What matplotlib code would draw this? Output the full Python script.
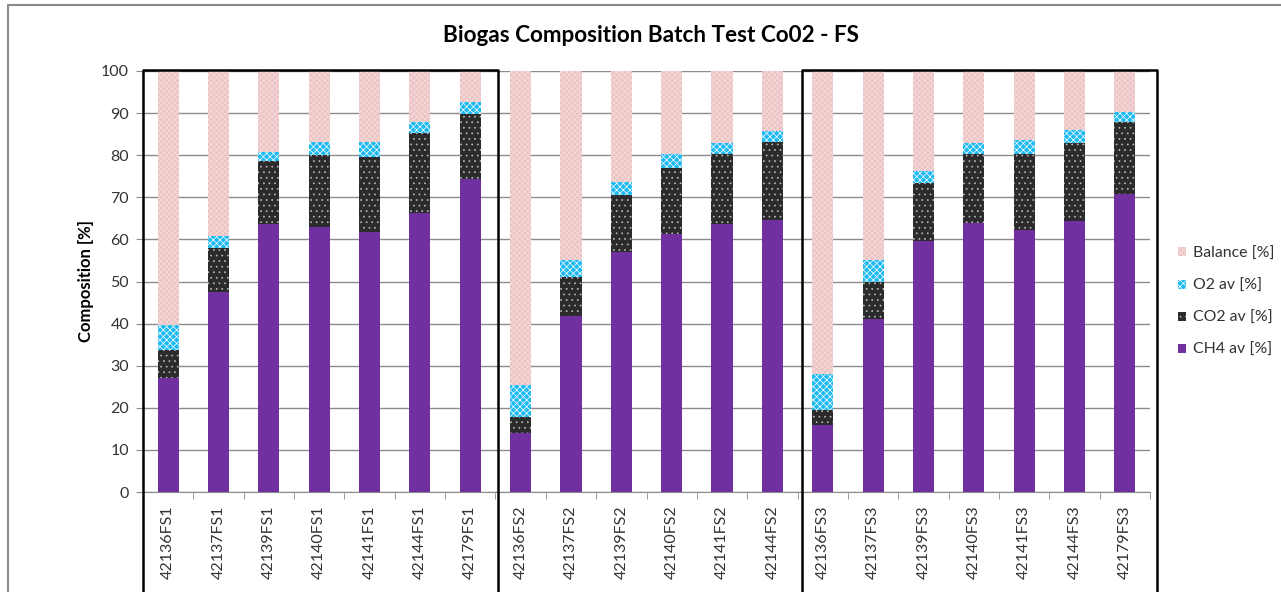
import matplotlib.pyplot as plt
from matplotlib.patches import Patch
from matplotlib.lines import Line2D
import numpy as np

plt.rcParams['font.family'] = ['Lato', 'DejaVu Sans']
plt.rcParams['hatch.linewidth'] = 0.5

samples = ['42136FS1', '42137FS1', '42139FS1', '42140FS1', '42141FS1', '42144FS1', '42179FS1',
           '42136FS2', '42137FS2', '42139FS2', '42140FS2', '42141FS2', '42144FS2',
           '42136FS3', '42137FS3', '42139FS3', '42140FS3', '42141FS3', '42144FS3', '42179FS3']
ch4 = np.array([27.1, 47.4, 63.7, 63.0, 61.8, 66.3, 74.3,
                14.1, 41.8, 56.9, 61.3, 63.6, 64.6,
                15.8, 41.0, 59.7, 64.0, 62.2, 64.3, 70.9])
co2 = np.array([6.6, 10.5, 15.0, 17.0, 17.7, 19.0, 15.6,
                3.6, 9.2, 13.6, 15.6, 16.6, 18.5,
                3.7, 9.0, 13.6, 16.2, 18.1, 18.5, 17.1])
o2 = np.array([6.0, 3.0, 2.0, 3.2, 3.7, 2.7, 2.8,
               7.6, 4.1, 3.1, 3.4, 2.8, 2.6,
               8.5, 5.1, 3.0, 2.6, 3.3, 3.2, 2.3])
balance = 100 - ch4 - co2 - o2

c_ch4 = '#7030A0'
c_co2 = '#2B2B2B'
c_o2 = '#1DB9F2'
c_bal = '#EDC4C4'
txt = '#333333'
grid = '#8C8C8C'

fig = plt.figure(figsize=(12.81, 5.92), dpi=100)
ax = fig.add_axes([143 / 1281, 1 - 492 / 592, (1150 - 143) / 1281, (492 - 71) / 592])

x = np.arange(len(samples))
w = 0.42
ax.bar(x, ch4, w, color=c_ch4, linewidth=0, zorder=3)
ax.bar(x, co2, w, bottom=ch4, color=c_co2, edgecolor='#BBBBBB', hatch='...', linewidth=0, zorder=3)
ax.bar(x, o2, w, bottom=ch4 + co2, color=c_o2, edgecolor='white', hatch='xxxxx', linewidth=0, zorder=3)
ax.bar(x, balance, w, bottom=ch4 + co2 + o2, color=c_bal, edgecolor='#F6DEDE', hatch='xxxxxx',
       linewidth=0, zorder=3)

ax.set_xlim(-0.5, len(samples) - 0.5)
ax.set_ylim(0, 100)
ax.set_yticks(np.arange(0, 101, 10))
ax.yaxis.grid(True, color=grid, linewidth=1)
ax.set_axisbelow(True)

ax.set_xticks(x)
ax.set_xticklabels(samples, rotation=90, va='top', ha='center')
ax.set_xticks(np.arange(-0.5, len(samples), 1), minor=True)
ax.tick_params(axis='x', which='major', length=0, pad=9.5, labelsize=11.5, labelcolor=txt)
ax.tick_params(axis='x', which='minor', length=5, color=grid, direction='out')
ax.tick_params(axis='y', length=5, color=grid, labelsize=11.5, labelcolor=txt, pad=5)

for s in ['top', 'right']:
    ax.spines[s].set_visible(False)
ax.spines['bottom'].set_color(grid)
ax.spines['left'].set_color(grid)

ax.set_ylabel('Composition [%]', fontsize=12, fontweight='bold', color='black', labelpad=5)

# group boxes
for x0, x1 in [(-0.5, 6.55), (12.59, 19.64)]:
    ax.add_line(Line2D([x0, x0, x1, x1], [-40, 100.2, 100.2, -40], color='black',
                       linewidth=1.8, clip_on=False, zorder=5))

fig.text(651 / 1281, 1 - 35 / 592, 'Biogas Composition Batch Test Co02 - FS',
         ha='center', va='center', fontsize=16.2, fontweight='bold', color='black')

handles = [Patch(facecolor=c_bal, edgecolor='#F6DEDE', hatch='xxxxxx', linewidth=0),
           Patch(facecolor=c_o2, edgecolor='white', hatch='xxxxx', linewidth=0),
           Patch(facecolor=c_co2, edgecolor='#BBBBBB', hatch='...', linewidth=0),
           Patch(facecolor=c_ch4, linewidth=0)]
labels = ['Balance [%]', 'O2 av [%]', 'CO2 av [%]', 'CH4 av [%]']
leg = fig.legend(handles, labels, loc='upper left', bbox_to_anchor=(1172 / 1281, 1 - 240 / 592),
                 frameon=False, fontsize=11.4, handlelength=0.5, handleheight=0.5,
                 handletextpad=0.45, labelspacing=1.15, borderaxespad=0)
for t in leg.get_texts():
    t.set_color(txt)

# chart area border
fig.add_artist(Line2D([8 / 1281, 8 / 1281, 1.01], [-0.01, 1 - 5 / 592, 1 - 5 / 592],
                      transform=fig.transFigure, color='#8A8A8A', linewidth=1.5))

fig.savefig('out.png', dpi=100)
